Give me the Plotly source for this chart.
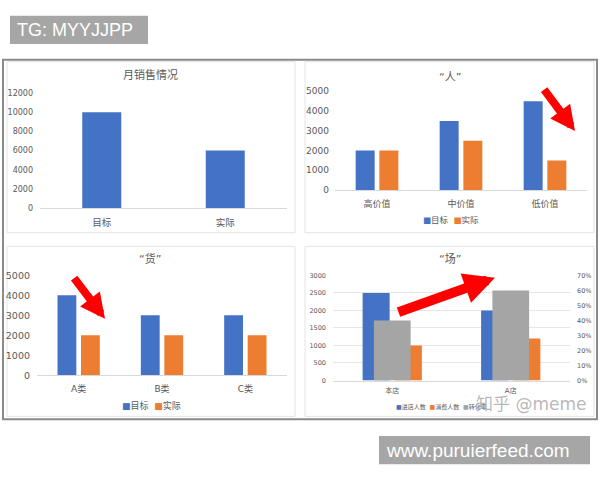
import plotly.graph_objects as go

W, H = 600, 480

# 月销售情况
sales_cats = ["目标", "实际"]
sales_vals = [10000, 6000]

# “人”: customer value tiers
people_cats = ["高价值", "中价值", "低价值"]
people_target = [2000, 3500, 4500]
people_actual = [2000, 2500, 1500]

# “货”: product classes
goods_cats = ["A类", "B类", "C类"]
goods_target = [4000, 3000, 3000]
goods_actual = [2000, 2000, 2000]

# “场”: stores
store_cats = ["本店", "A店"]
store_visitors = [2500, 2000]
store_buyers = [1000, 1200]
store_conversion = [0.40, 0.60]

BLUE = "#4472C4"
ORANGE = "#ED7D31"
GRAY = "#A5A5A5"
TXT = "#595959"
LINE = "#D9D9D9"
FONT = "DejaVu Sans, Noto Sans CJK SC, sans-serif"


def px(x):
    return x / W


def py(y):
    return 1 - y / H


fig = go.Figure()


def bar(x, y, color, xa, ya, width, offset):
    return go.Bar(x=x, y=y, marker=dict(color=color, line=dict(width=0)),
                  xaxis=xa, yaxis=ya, width=width, offset=offset,
                  showlegend=False, hoverinfo="x+y")


# top-left
fig.add_trace(bar(sales_cats, sales_vals, BLUE, "x", "y", 0.316, -0.158))
# top-right
fig.add_trace(bar(people_cats, people_target, BLUE, "x2", "y2", 0.226, -0.254))
fig.add_trace(bar(people_cats, people_actual, ORANGE, "x2", "y2", 0.226, 0.028))
# bottom-left
fig.add_trace(bar(goods_cats, goods_target, BLUE, "x3", "y3", 0.226, -0.254))
fig.add_trace(bar(goods_cats, goods_actual, ORANGE, "x3", "y3", 0.226, 0.028))
# bottom-right (primary counts + secondary conversion rate)
fig.add_trace(bar(store_cats, store_visitors, BLUE, "x4", "y4", 0.228, -0.250))
fig.add_trace(bar(store_cats, store_buyers, ORANGE, "x4", "y4", 0.228, 0.022))
fig.add_trace(bar(store_cats, store_conversion, GRAY, "x4", "y5", 0.31, -0.155))


def xaxis(dom, anchor, n, size, standoff):
    return dict(domain=[px(dom[0]), px(dom[1])], anchor=anchor, type="category",
                range=[-0.5, n - 0.5], showline=True, linecolor=LINE, linewidth=1,
                ticks="", showgrid=False, zeroline=False,
                tickfont=dict(size=size, color=TXT, family=FONT),
                ticklabelstandoff=standoff, fixedrange=True)


def yaxis(dom, anchor, rng, dtick, size, standoff, grid=False, fmt="d"):
    return dict(domain=[py(dom[1]), py(dom[0])], anchor=anchor, range=rng, dtick=dtick,
                showline=False, ticks="", showgrid=grid, gridcolor="#E6E6E6",
                gridwidth=1, zeroline=False, tickformat=fmt,
                tickfont=dict(size=size, color=TXT, family=FONT),
                ticklabelstandoff=standoff, fixedrange=True)


fig.update_layout(
    xaxis=xaxis((40, 287), "y", 2, 9.5, 5),
    yaxis=yaxis((89, 207), "x", [0, 12000], 2000, 8, 6),
    xaxis2=xaxis((335, 587), "y2", 3, 9, 5),
    yaxis2=yaxis((87.3, 188.3), "x2", [0, 5000], 1000, 9, 5),
    xaxis3=xaxis((37, 287), "y3", 3, 9, 5),
    yaxis3=yaxis((275.7, 378), "x3", [0, 5000], 1000, 9.5, 6),
    xaxis4=xaxis((333, 570), "y4", 2, 7, 3),
    yaxis4=yaxis((275.7, 383.3), "x4", [0, 3000], 500, 6.5, 6, grid=True),
    yaxis5=dict(overlaying="y4", side="right", anchor="x4", range=[0, 0.7], dtick=0.1,
                tickformat=".0%", showgrid=False, zeroline=False, showline=False,
                ticks="", tickfont=dict(size=6.5, color=TXT, family=FONT),
                ticklabelstandoff=6, fixedrange=True),
    barmode="group",
    width=W, height=H,
    margin=dict(l=0, r=0, t=0, b=0),
    paper_bgcolor="white",
    plot_bgcolor="rgba(0,0,0,0)",
    font=dict(family=FONT, color=TXT),
    showlegend=False,
)

shapes = []
# outer frame
shapes.append(dict(type="rect", xref="paper", yref="paper", x0=px(3), x1=px(597),
                   y0=py(423), y1=py(55), line=dict(color="#8A8A8A", width=2)))
# panel borders
for (x0, y0, x1, y1) in [(7, 57, 295, 232), (305, 57, 594, 232),
                         (7, 246, 295, 420), (305, 246, 594, 420)]:
    shapes.append(dict(type="rect", xref="paper", yref="paper", x0=px(x0), x1=px(x1),
                       y0=py(y1), y1=py(y0), line=dict(color="#E4E4E4", width=1),
                       layer="below"))
# tag boxes
shapes.append(dict(type="rect", xref="paper", yref="paper", x0=px(10), x1=px(148),
                   y0=py(39), y1=py(10), fillcolor="#A6A6A6", line=dict(width=0)))
shapes.append(dict(type="rect", xref="paper", yref="paper", x0=px(379), x1=px(590),
                   y0=py(469), y1=py(440), fillcolor="#A6A6A6", line=dict(width=0)))
fig.update_layout(shapes=shapes)

ann = []


def text(x, y, s, size, color=TXT, xanchor="center", family=FONT):
    ann.append(dict(x=px(x), y=py(y), xref="paper", yref="paper", text=s,
                    showarrow=False, xanchor=xanchor, yanchor="middle",
                    font=dict(size=size, color=color, family=family)))


# chart titles
text(150, 71, "月销售情况", 11)
text(450, 73, "“人”", 11)
text(150, 259, "“货”", 11)
text(450, 259, "“场”", 11)


def sw(color):
    return f"<span style='color:{color}'>■</span>"


# legends
text(451, 219, f"{sw(BLUE)}目标  {sw(ORANGE)}实际", 8.5)
text(151, 409, f"{sw(BLUE)}目标  {sw(ORANGE)}实际", 9)
text(394, 410, f"{sw(BLUE)}进店人数  {sw(ORANGE)}消费人数  {sw(GRAY)}转化率", 6,
     xanchor="left")

# watermark
text(531, 407, "知乎 @meme", 17, color="rgba(160,160,160,0.75)")

# tag texts
text(15, 24.5, "TG: MYYJJPP", 18, color="white", xanchor="left",
     family="Liberation Sans, Arial, sans-serif")
text(384, 454.5, "www.puruierfeed.com", 19, color="white", xanchor="left",
     family="Liberation Sans, Arial, sans-serif")

# red arrows (tail -> head), tail given as pixel offset from the head
for (tx, ty, hx, hy, w) in [(543, 85, 575, 128, 8), (73, 278, 105, 320, 8),
                            (397, 313, 495, 278, 10)]:
    ann.append(dict(x=px(hx), y=py(hy), xref="paper", yref="paper",
                    axref="pixel", ayref="pixel", ax=tx - hx, ay=ty - hy, text="",
                    showarrow=True, arrowhead=2, arrowsize=0.62, arrowwidth=w,
                    arrowcolor="#FF0000", standoff=0, startstandoff=0))

fig.update_layout(annotations=ann)

fig.write_html("out.html", include_plotlyjs=True, config={"displayModeBar": False})
